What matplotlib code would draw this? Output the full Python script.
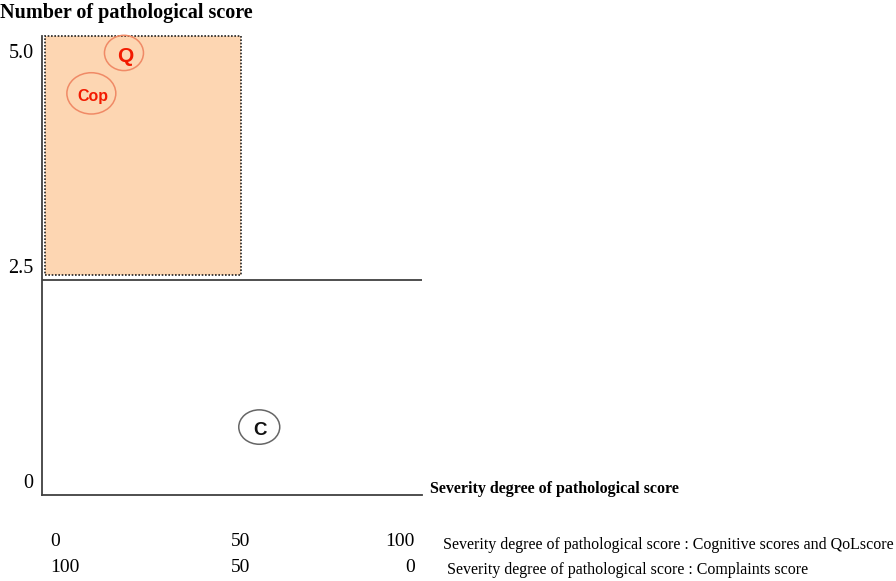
import matplotlib
matplotlib.use("Agg")
import matplotlib.pyplot as plt
from matplotlib.patches import Ellipse, Rectangle
import matplotlib.transforms as mtransforms

# ---- data ----
bubble_labels = ["Q", "Cop", "C"]
bubble_x = [20.6, 12.4, 54.6]          # severity degree (0-100 scale)
bubble_y = [5.14, 4.67, 0.79]          # number of pathological scores
bubble_w = [9.8, 12.3, 10.3]
bubble_h = [0.41, 0.48, 0.40]
bubble_text_colors = ["#f21a00", "#f21a00", "#111111"]
bubble_edge_colors = ["#f08a66", "#f08a66", "#666666"]
bubble_fontsizes = [15, 11.5, 13.5]

ytick_values = [5.0, 2.5, 0]
ytick_labels = ["5.0", "2.5", "0"]
threshold_y = 2.5
zone_x = [0.75, 50.0]
zone_y = [2.56, 5.34]

xtick_pos = [2.0, 50.0, 93.7]
xtick_align = ["left", "center", "right"]
xrow1_labels = ["0", "50", "100"]
xrow2_labels = ["100", "50", "0"]
row1_title = "Severity degree of pathological score : Cognitive scores and QoLscore"
row2_title = "Severity degree of pathological score : Complaints score"

W, H = 896, 581
fig = plt.figure(figsize=(W / 100, H / 100), dpi=100)
ax_l, ax_r, ax_t, ax_b = 42, 422, 36, 495
ax = fig.add_axes([ax_l / W, (H - ax_b) / H, (ax_r - ax_l) / W, (ax_b - ax_t) / H])
ax.set_xlim(0, 95.5)
ax.set_ylim(0, 5.337)
ax.set_xticks([])
ax.set_yticks([])
for s in ["top", "right"]:
    ax.spines[s].set_visible(False)
for s in ["left", "bottom"]:
    ax.spines[s].set_color("#404040")
    ax.spines[s].set_linewidth(1.3)

serif = "Liberation Serif"

# shaded zone
ax.add_patch(Rectangle((zone_x[0], zone_y[0]), zone_x[1] - zone_x[0], zone_y[1] - zone_y[0],
                       facecolor="#fdd6b2", edgecolor="#222222", linestyle=(0, (1, 1)),
                       linewidth=1.2, zorder=1, clip_on=False))
# threshold line
ax.axhline(threshold_y, color="#404040", linewidth=1.3, zorder=2)

# bubbles
for lab, x, y, w, h, tc, ec, fs in zip(bubble_labels, bubble_x, bubble_y, bubble_w, bubble_h,
                                        bubble_text_colors, bubble_edge_colors, bubble_fontsizes):
    ax.add_patch(Ellipse((x, y), w, h, facecolor="none", edgecolor=ec, linewidth=1.1, zorder=3,
                         clip_on=False))
    ax.text(x + 0.3, y - 0.04, lab, color=tc, fontsize=fs, fontweight="bold",
            family="Liberation Sans", ha="center", va="center", zorder=4)

# y tick labels
off_up = mtransforms.offset_copy(ax.transData, fig=fig, x=0, y=8, units="points")
for v, lab in zip(ytick_values, ytick_labels):
    trans = mtransforms.blended_transform_factory(ax.transAxes, off_up)
    t = mtransforms.offset_copy(trans, fig=fig, x=-6, y=0, units="points")
    ax.text(0, v, lab, transform=t, ha="right", va="center", fontsize=14.5, family=serif)

# titles
fig.text(0 / W, 1 - 13 / H, "Number of pathological score", fontsize=14.5, fontweight="bold",
         family=serif, ha="left", va="center")
fig.text(430 / W, 1 - 489 / H, "Severity degree of pathological score", fontsize=11.5,
         fontweight="bold", family=serif, ha="left", va="center")

# bottom scale rows
row1_y = -(541 - ax_b) / (ax_b - ax_t)
row2_y = -(568 - ax_b) / (ax_b - ax_t)
tr = mtransforms.blended_transform_factory(ax.transData, ax.transAxes)
for p, al, l1, l2 in zip(xtick_pos, xtick_align, xrow1_labels, xrow2_labels):
    ax.text(p, row1_y, l1, transform=tr, ha=al, va="center", fontsize=14, family=serif)
    ax.text(p, row2_y, l2, transform=tr, ha=al, va="center", fontsize=14, family=serif)
fig.text(443 / W, 1 - 545 / H, row1_title, fontsize=11.5, family=serif, ha="left", va="center")
fig.text(447 / W, 1 - 570 / H, row2_title, fontsize=11.5, family=serif, ha="left", va="center")

fig.savefig("out.png", dpi=100)
